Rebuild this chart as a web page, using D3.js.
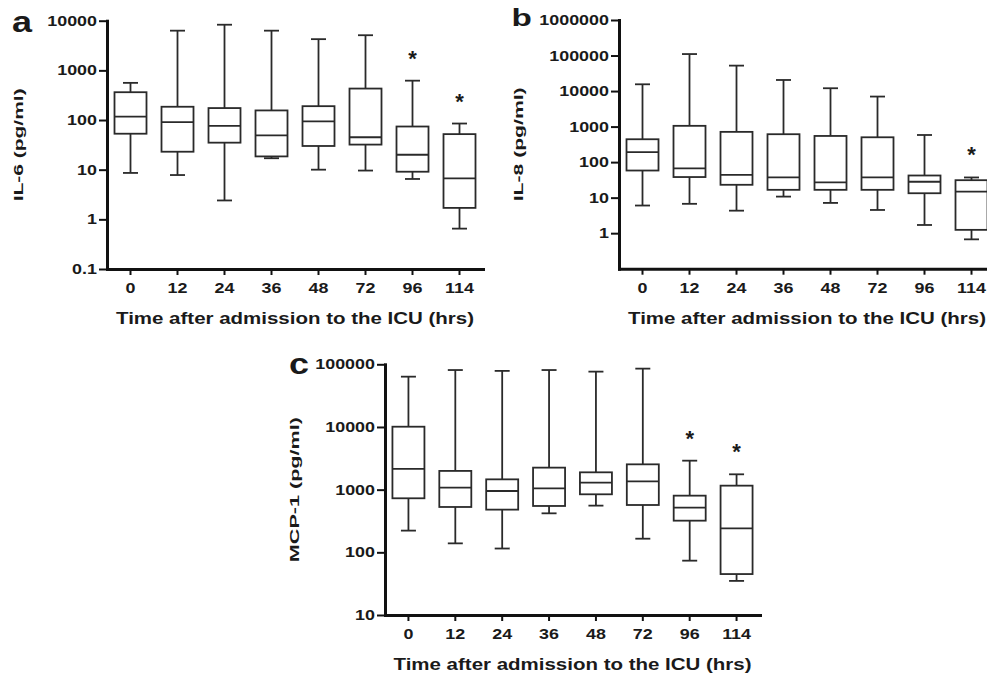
<!DOCTYPE html>
<html><head><meta charset="utf-8">
<script src="https://cdn.jsdelivr.net/npm/d3@7"></script>
<style>html,body{margin:0;padding:0;background:#fff;} svg{display:block;}</style>
</head><body><svg id="chart" width="987" height="674"></svg>
<script>
// ---------- DATA ----------
const categories = ["0", "12", "24", "36", "48", "72", "96", "114"];
const xTitle = "Time after admission to the ICU (hrs)";

// Panel a: IL-6 (pg/ml)
const il6Min    = [8.6, 7.8, 2.4, 17, 10, 9.6, 6.5, 0.65];
const il6Q1     = [53, 23, 35, 18.5, 30, 32, 9.1, 1.7];
const il6Median = [117, 91, 76, 49, 94, 45, 20, 6.7];
const il6Q3     = [363, 185, 174, 156, 190, 430, 74, 52];
const il6Max    = [560, 6300, 8300, 6300, 4250, 5100, 620, 85];
const il6Star   = [false, false, false, false, false, false, true, true];
const il6Ticks  = [0.1, 1, 10, 100, 1000, 10000];

// Panel b: IL-8 (pg/ml)
const il8Min    = [6, 6.7, 4.3, 10.7, 7.1, 4.5, 1.7, 0.67];
const il8Q1     = [58, 38, 23, 16.6, 16.6, 16.6, 13.3, 1.24];
const il8Median = [190, 67, 44, 37, 27, 37, 28, 14.8];
const il8Q3     = [440, 1050, 710, 610, 545, 500, 42, 31];
const il8Max    = [15500, 110000, 52000, 20500, 12000, 7000, 580, 37];
const il8Star   = [false, false, false, false, false, false, false, true];
const il8Ticks  = [1, 10, 100, 1000, 10000, 100000, 1000000];

// Panel c: MCP-1 (pg/ml)
const mcpMin    = [222, 139, 115, 419, 556, 165, 73.6, 35];
const mcpQ1     = [728, 529, 480, 549, 843, 569, 320, 45];
const mcpMedian = [2140, 1076, 952, 1050, 1294, 1360, 516, 241];
const mcpQ3     = [10100, 1990, 1460, 2245, 1890, 2535, 802, 1158];
const mcpMax    = [63500, 81000, 78500, 81000, 76400, 85300, 2900, 1757];
const mcpStar   = [false, false, false, false, false, false, true, true];
const mcpTicks  = [10, 100, 1000, 10000, 100000];

// ---------- DRAW ----------
const FONT = "'Liberation Sans', Arial, Helvetica, sans-serif";
const INK = "#1a1a1a";
const svg = d3.select("#chart");

const panels = [
  {letter: "a", yTitle: "IL-6 (pg/ml)", min: il6Min, q1: il6Q1, med: il6Median, q3: il6Q3, max: il6Max, star: il6Star,
   ticks: il6Ticks, domain: [0.1, 10000], left: 107, top: 20.7, width: 376, height: 248.3,
   yTitleX: 23, yTitleLen: 113, letterX: 12, letterY: 32, letterSize: 30, letterScale: 1.2},
  {letter: "b", yTitle: "IL-8 (pg/ml)", min: il8Min, q1: il8Q1, med: il8Median, q3: il8Q3, max: il8Max, star: il8Star,
   ticks: il8Ticks, domain: [0.1, 1000000], left: 619, top: 20, width: 376, height: 248.7,
   yTitleX: 523, yTitleLen: 114, letterX: 511.5, letterY: 26, letterSize: 23, letterScale: 1.45},
  {letter: "c", yTitle: "MCP-1 (pg/ml)", min: mcpMin, q1: mcpQ1, med: mcpMedian, q3: mcpQ3, max: mcpMax, star: mcpStar,
   ticks: mcpTicks, domain: [10, 100000], left: 385, top: 364.3, width: 375, height: 250.7,
   yTitleX: 299, yTitleLen: 145, letterX: 289, letterY: 374, letterSize: 30, letterScale: 1.2}
];

const TICK_SCALE = 1.28;

panels.forEach(p => {
  const g = svg.append("g").attr("transform", `translate(${p.left},${p.top})`);
  const x = d3.scaleBand().domain(categories).range([0, p.width]).padding(0);
  const y = d3.scaleLog().domain(p.domain).range([p.height, 0]);
  const boxW = 32, capW = 15;
  const rows = categories.map((c, i) => ({c, min: p.min[i], q1: p.q1[i], med: p.med[i], q3: p.q3[i], max: p.max[i], star: p.star[i]}));
  const cx = d => x(d.c) + x.bandwidth() / 2;

  const bx = g.append("g").attr("stroke", "#2a2a2a").attr("stroke-width", 1.8).attr("fill", "none");
  bx.selectAll(".stem-lo").data(rows).join("line")
    .attr("x1", cx).attr("x2", cx).attr("y1", d => y(d.min)).attr("y2", d => y(d.q1));
  bx.selectAll(".stem-hi").data(rows).join("line")
    .attr("x1", cx).attr("x2", cx).attr("y1", d => y(d.q3)).attr("y2", d => y(d.max));
  bx.selectAll(".cap-lo").data(rows).join("line")
    .attr("x1", d => cx(d) - capW / 2).attr("x2", d => cx(d) + capW / 2)
    .attr("y1", d => y(d.min)).attr("y2", d => y(d.min));
  bx.selectAll(".cap-hi").data(rows).join("line")
    .attr("x1", d => cx(d) - capW / 2).attr("x2", d => cx(d) + capW / 2)
    .attr("y1", d => y(d.max)).attr("y2", d => y(d.max));
  bx.selectAll(".box").data(rows).join("rect")
    .attr("x", d => cx(d) - boxW / 2).attr("width", boxW)
    .attr("y", d => y(d.q3)).attr("height", d => y(d.q1) - y(d.q3))
    .attr("fill", "#fff");
  bx.selectAll(".med").data(rows).join("line")
    .attr("x1", d => cx(d) - boxW / 2).attr("x2", d => cx(d) + boxW / 2)
    .attr("y1", d => y(d.med)).attr("y2", d => y(d.med));
  g.selectAll(".star").data(rows.filter(d => d.star)).join("text")
    .attr("x", cx).attr("y", d => y(d.max) - 27 + 12)
    .attr("text-anchor", "middle").attr("font-family", FONT).attr("font-weight", "bold")
    .attr("font-size", 22).attr("fill", INK).text("*");

  const ya = g.append("g").call(d3.axisLeft(y).tickValues(p.ticks).tickFormat(d => String(d))
    .tickSize(8).tickPadding(2).tickSizeOuter(0));
  const xa = g.append("g").attr("transform", `translate(0,${p.height})`)
    .call(d3.axisBottom(x).tickSize(6).tickPadding(8).tickSizeOuter(0));
  [ya, xa].forEach(a => {
    a.select(".domain").attr("stroke", "#111").attr("stroke-width", 3).attr("stroke-linecap", "square");
    a.selectAll(".tick line").attr("stroke", "#111").attr("stroke-width", 2);
    a.selectAll(".tick text").attr("font-family", FONT).attr("font-weight", "bold")
      .attr("font-size", 14).attr("fill", INK);
  });
  ya.selectAll(".tick text").attr("transform", function () {
    const tx = +d3.select(this).attr("x");
    return `translate(${tx},0) scale(${TICK_SCALE},1) translate(${-tx},0)`;
  });
  xa.selectAll(".tick text").attr("transform", `scale(${TICK_SCALE},1)`);

  g.append("text").attr("x", p.width / 2).attr("y", p.height + 55)
    .attr("text-anchor", "middle").attr("font-family", FONT).attr("font-weight", "bold")
    .attr("font-size", 16).attr("fill", INK)
    .attr("textLength", 358).attr("lengthAdjust", "spacingAndGlyphs").text(xTitle);

  svg.append("text")
    .attr("transform", `translate(${p.yTitleX},${p.top + p.height / 2}) rotate(-90)`)
    .attr("text-anchor", "middle").attr("font-family", FONT).attr("font-weight", "bold")
    .attr("font-size", 13).attr("fill", INK)
    .attr("textLength", p.yTitleLen).attr("lengthAdjust", "spacingAndGlyphs").text(p.yTitle);

  svg.append("text")
    .attr("transform", `translate(${p.letterX},${p.letterY}) scale(${p.letterScale},1)`)
    .attr("font-family", FONT).attr("font-weight", "bold").attr("font-size", p.letterSize)
    .attr("fill", INK).text(p.letter);
});
</script></body></html>
